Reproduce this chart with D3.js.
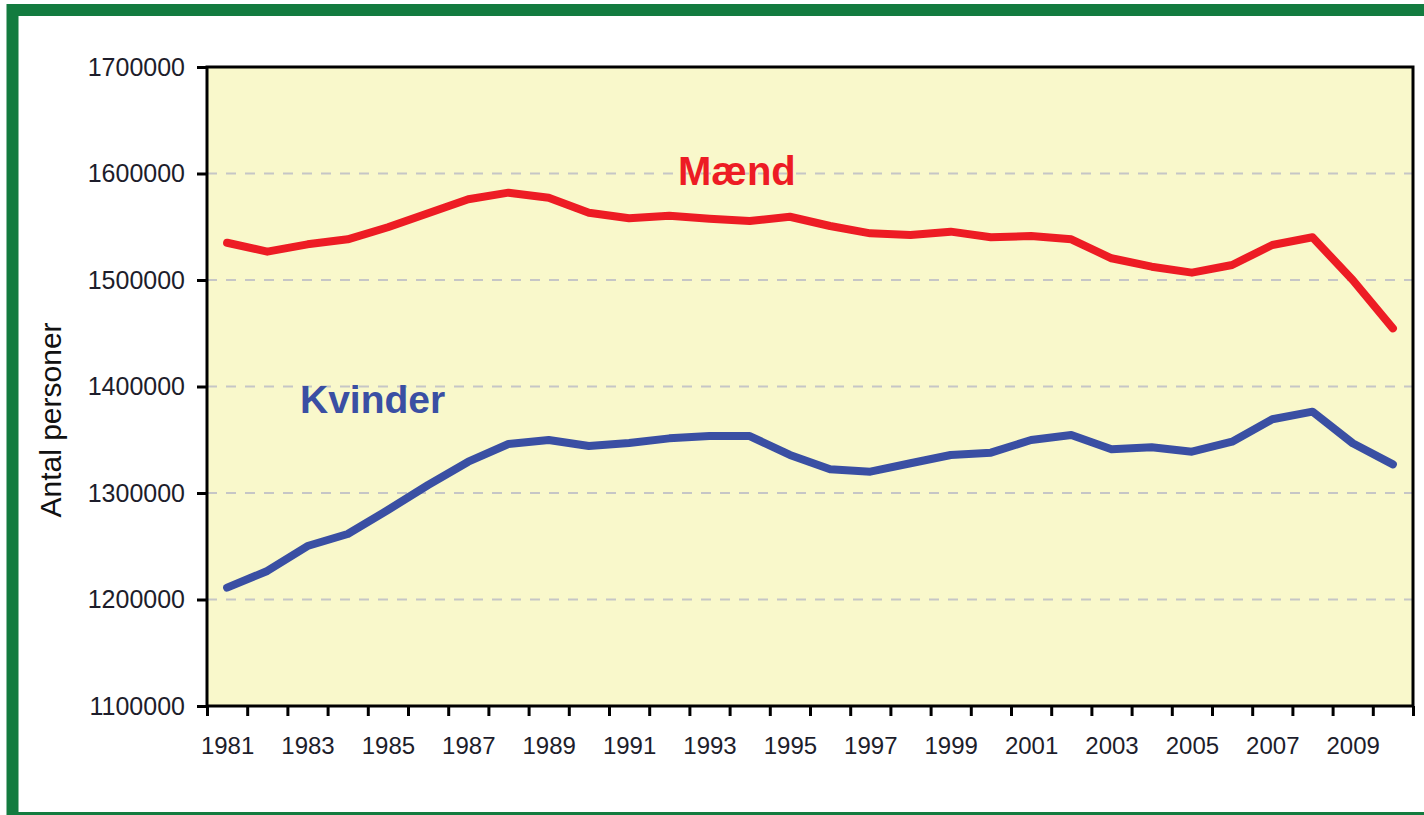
<!DOCTYPE html>
<html>
<head>
<meta charset="utf-8">
<script src="https://cdn.jsdelivr.net/npm/d3@7"></script>
<style>
  html, body { margin: 0; padding: 0; background: #fff; }
  svg { display: block; }
</style>
</head>
<body>
<div id="vis"></div>
<script>
// data
const years = d3.range(1981, 2011);
const maend = [1535000, 1526600, 1533500, 1538200, 1549500, 1562600, 1575800, 1582000, 1577300, 1563200,
               1558000, 1560400, 1557500, 1555400, 1559400, 1550700, 1543800, 1542300, 1545400, 1540100,
               1541300, 1538200, 1520400, 1512500, 1506900, 1514100, 1532900, 1540100, 1500000, 1454600];
const kvinder = [1211100, 1226800, 1250200, 1261500, 1284000, 1307500, 1329400, 1346000, 1349800, 1344100,
                 1347000, 1351300, 1353500, 1353500, 1335700, 1322200, 1320000, 1327900, 1335700, 1337900,
                 1349800, 1354500, 1341000, 1342900, 1338800, 1348200, 1369200, 1376400, 1346700, 1326900];
const yTicks = [1100000, 1200000, 1300000, 1400000, 1500000, 1600000, 1700000];
const xLabels = [1981, 1983, 1985, 1987, 1989, 1991, 1993, 1995, 1997, 1999, 2001, 2003, 2005, 2007, 2009];

const width = 1424, height = 815;
const margin = {top: 67, right: 11, bottom: 109, left: 207};
const font = "Liberation Sans, Arial, Helvetica, sans-serif";

const svg = d3.create("svg")
    .attr("width", width)
    .attr("height", height);

// green frame
svg.append("rect")
    .attr("x", 12.5).attr("y", 10)
    .attr("width", 1440).attr("height", 808)
    .attr("fill", "none")
    .attr("stroke", "#137B3F")
    .attr("stroke-width", 12);

// scales - years are categories, boundaries on half years
const x = d3.scaleLinear()
    .domain([years[0] - 0.5, years[years.length - 1] + 0.5])
    .range([margin.left, width - margin.right]);

const y = d3.scaleLinear()
    .domain([1100000, 1700000])
    .range([height - margin.bottom, margin.top]);

// plot background
svg.append("rect")
    .attr("x", x.range()[0]).attr("y", y.range()[1])
    .attr("width", x.range()[1] - x.range()[0])
    .attr("height", y.range()[0] - y.range()[1])
    .attr("fill", "#F9F8CB");

// dashed gridlines
svg.append("g")
    .selectAll("line")
    .data(yTicks.slice(1, -1))
    .join("line")
    .attr("x1", x.range()[0]).attr("x2", x.range()[1])
    .attr("y1", d => y(d)).attr("y2", d => y(d))
    .attr("stroke", "#C6C6C6")
    .attr("stroke-width", 2)
    .attr("stroke-dasharray", "10,9");

// lines
const line = d3.line()
    .x((d, i) => x(years[i]))
    .y(d => y(d));

svg.append("path")
    .datum(maend)
    .attr("d", line)
    .attr("fill", "none")
    .attr("stroke", "#ED1C24")
    .attr("stroke-width", 8)
    .attr("stroke-linejoin", "round")
    .attr("stroke-linecap", "round");

svg.append("path")
    .datum(kvinder)
    .attr("d", line)
    .attr("fill", "none")
    .attr("stroke", "#3A4FA3")
    .attr("stroke-width", 8)
    .attr("stroke-linejoin", "round")
    .attr("stroke-linecap", "round");

// plot border
svg.append("rect")
    .attr("x", x.range()[0]).attr("y", y.range()[1])
    .attr("width", x.range()[1] - x.range()[0])
    .attr("height", y.range()[0] - y.range()[1])
    .attr("fill", "none")
    .attr("stroke", "#000")
    .attr("stroke-width", 3);

// y axis
const yAxis = svg.append("g")
    .attr("transform", `translate(${margin.left},0)`)
    .call(d3.axisLeft(y).tickValues(yTicks).tickFormat(d3.format("d")).tickSize(10).tickPadding(12));
yAxis.select(".domain").remove();
yAxis.selectAll(".tick line").attr("stroke", "#000").attr("stroke-width", 3);
yAxis.selectAll("text")
    .attr("font-family", font)
    .attr("font-size", 25)
    .attr("fill", "#1d1d2b");

// x axis tick marks on category boundaries
const xTickAxis = svg.append("g")
    .attr("transform", `translate(0,${height - margin.bottom})`)
    .call(d3.axisBottom(x).tickValues(d3.range(years[0] - 0.5, years[years.length - 1] + 1)).tickFormat("").tickSize(10));
xTickAxis.select(".domain").remove();
xTickAxis.selectAll(".tick line").attr("stroke", "#000").attr("stroke-width", 3);

// x labels (every other year)
const xLabelAxis = svg.append("g")
    .attr("transform", `translate(0,${height - margin.bottom})`)
    .call(d3.axisBottom(x).tickValues(xLabels).tickFormat(d3.format("d")).tickSize(0).tickPadding(31));
xLabelAxis.select(".domain").remove();
xLabelAxis.selectAll("text")
    .attr("font-family", font)
    .attr("font-size", 24)
    .attr("fill", "#1d1d2b");

// y axis title
svg.append("text")
    .attr("transform", "translate(61,420) rotate(-90)")
    .attr("text-anchor", "middle")
    .attr("font-family", font)
    .attr("font-size", 30)
    .attr("fill", "#111")
    .text("Antal personer");

// series labels
svg.append("text")
    .attr("x", 678).attr("y", 185)
    .attr("font-family", font)
    .attr("font-weight", 700)
    .attr("font-size", 40)
    .attr("fill", "#ED1C24")
    .text("Mænd");

svg.append("text")
    .attr("x", 300).attr("y", 413)
    .attr("font-family", font)
    .attr("font-weight", 700)
    .attr("font-size", 39)
    .attr("fill", "#3A4FA3")
    .text("Kvinder");

document.getElementById("vis").appendChild(svg.node());
</script>
</body>
</html>
